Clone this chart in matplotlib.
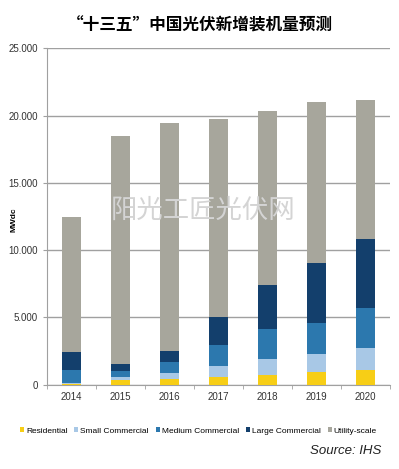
import matplotlib.pyplot as plt
import numpy as np
from matplotlib.ticker import FuncFormatter

plt.rcParams['font.family'] = ['Liberation Sans', 'Noto Sans CJK SC', 'DejaVu Sans']

years = ['2014', '2015', '2016', '2017', '2018', '2019', '2020']
residential = [20, 360, 410, 560, 730, 910, 1080]
small_commercial = [80, 170, 450, 790, 1140, 1360, 1610]
medium_commercial = [950, 450, 820, 1610, 2230, 2300, 2970]
large_commercial = [1340, 520, 810, 2060, 3300, 4480, 5200]
utility_scale = [10070, 16980, 16930, 14700, 12910, 11950, 10290]

series = [residential, small_commercial, medium_commercial, large_commercial, utility_scale]
labels = ['Residential', 'Small Commercial', 'Medium Commercial', 'Large Commercial', 'Utility-scale']
colors = ['#F7CE16', '#A8C8E6', '#2C78AE', '#133F6C', '#A7A69C']

fig = plt.figure(figsize=(3.99, 4.69), dpi=100)
ax = fig.add_axes([0.118, 0.180, 0.859, 0.717])

x = np.arange(len(years))
bottom = np.zeros(len(years))
for vals, lab, col in zip(series, labels, colors):
    ax.bar(x, vals, 0.4, bottom=bottom, color=col, label=lab, zorder=3)
    bottom += np.array(vals)

ax.set_xlim(-0.5, len(years) - 0.5)
ax.set_ylim(0, 25000)
ax.set_yticks(range(0, 25001, 5000))
ax.yaxis.set_major_formatter(FuncFormatter(lambda v, p: f'{int(v):,}'.replace(',', '.')))
ax.yaxis.grid(True, color='#A0A0A0', linewidth=1.0, zorder=0)
ax.set_xticks(x)
ax.set_xticklabels(years)
ax.set_xticks(np.arange(-0.5, len(years), 1), minor=True)
ax.tick_params(axis='x', which='major', length=0, labelsize=7, pad=5, colors='#333333')
ax.tick_params(axis='x', which='minor', length=3, color='#A0A0A0')
ax.tick_params(axis='y', length=3, color='#A0A0A0', labelsize=7, colors='#333333')
for s in ['top', 'right']:
    ax.spines[s].set_visible(False)
for s in ['left', 'bottom']:
    ax.spines[s].set_color('#A0A0A0')
ax.set_ylabel('MWdc', fontsize=6, fontweight='bold')
ax.yaxis.set_label_coords(-0.085, 0.49)

fig.text(0.5, 0.946, '“十三五”中国光伏新增装机量预测', ha='center', va='center',
         fontsize=12, fontweight='bold', family=['Noto Sans CJK SC', 'DejaVu Sans'])
fig.text(0.508, 0.552, '阳光工匠光伏网', ha='center', va='center', fontsize=19,
         color='#D4D4D4', family=['Noto Sans CJK SC', 'DejaVu Sans'], zorder=10)

ax.legend(loc='center', bbox_to_anchor=(0.497, 0.081), bbox_transform=fig.transFigure,
          ncol=5, frameon=False, fontsize=6.0, handlelength=0.5, handleheight=0.5,
          handletextpad=0.25, columnspacing=0.8, borderpad=0, borderaxespad=0)
fig.text(0.955, 0.038, 'Source: IHS', ha='right', va='center', fontsize=9.5, style='italic',
         color='#222222')

fig.savefig('out.png', dpi=100)
